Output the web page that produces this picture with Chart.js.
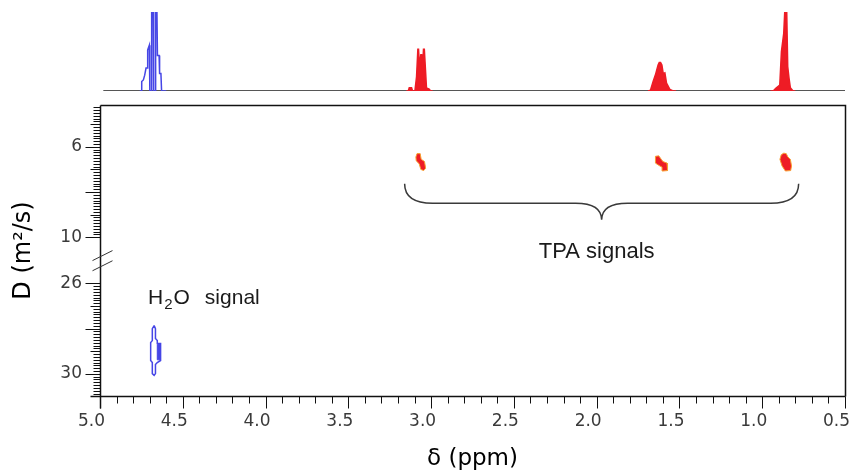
<!DOCTYPE html>
<html>
<head>
<meta charset="utf-8">
<script src="https://cdn.jsdelivr.net/npm/chart.js@4.4.0/dist/chart.umd.min.js"></script>
<style>
  html, body { margin: 0; padding: 0; background: #fff; }
  #wrap { position: relative; width: 853px; height: 472px; }
  #wrap canvas { position: absolute; left: 0; top: 0; }
</style>
</head>
<body>
<div id="wrap">
  <canvas id="spec-chart" width="853" height="472"></canvas>
  <canvas id="dosy-chart" width="853" height="472"></canvas>
</div>
<script>
var BLUE = '#4646e6';
var RED = '#ee1c25';
var EDGE = '#f7a030';

// 1H projection on top (intensity in % of full scale)
var h2o_ppm = [4.76, 4.748, 4.748, 4.738, 4.730, 4.722, 4.716, 4.712, 4.702, 4.700, 4.698, 4.691, 4.688, 4.679, 4.676, 4.667, 4.664, 4.656, 4.653, 4.643, 4.640, 4.632, 4.628, 4.60];
var h2o_int = [0, 0, 12, 14, 20, 29, 29, 52, 58, 58, 0, 0, 100, 100, 0, 0, 100, 100, 45, 45, 22, 22, 0, 0];

var tpa1_ppm = [3.15, 3.138, 3.132, 3.118, 3.112, 3.098, 3.088, 3.080, 3.076, 3.070, 3.062, 3.057, 3.052, 3.046, 3.041, 3.034, 3.028, 3.012, 3.003, 2.99];
var tpa1_int = [0, 0, 4, 4, 0, 0, 18, 53, 53, 31, 46, 46, 27, 53, 53, 27, 4, 2.5, 0, 0];

var tpa2_ppm = [1.69, 1.675, 1.659, 1.643, 1.629, 1.622, 1.614, 1.606, 1.598, 1.588, 1.578, 1.558, 1.538, 1.52];
var tpa2_int = [0, 1, 12, 22, 33, 36, 36, 33, 22, 23, 10, 2, 0, 0];

var tpa3_ppm = [0.95, 0.934, 0.918, 0.894, 0.884, 0.870, 0.864, 0.852, 0.846, 0.838, 0.830, 0.814, 0.80];
var tpa3_int = [0, 0, 3.4, 7.6, 50, 73, 100, 100, 31, 16, 4, 0, 0];

var base_ppm = [4.98, 0.5];
var base_int = [0, 0];

// DOSY contours (ppm, D)
var h2o_ring_ppm = [4.673, 4.665, 4.665, 4.654, 4.654, 4.634, 4.634, 4.654, 4.665, 4.665, 4.673, 4.684, 4.684, 4.694, 4.694, 4.684, 4.684, 4.673];
var h2o_ring_d   = [27.87, 28.0, 28.44, 28.53, 28.66, 28.66, 29.41, 29.5, 29.59, 29.99, 30.07, 29.99, 29.5, 29.41, 28.62, 28.53, 28.0, 27.87];
var h2o_core_ppm = [4.654, 4.636, 4.636, 4.654, 4.654];
var h2o_core_d   = [28.7, 28.7, 29.38, 29.38, 28.7];

var spot1_ppm = [3.085, 3.066, 3.060, 3.040, 3.033, 3.045, 3.062, 3.072, 3.090, 3.092, 3.085];
var spot1_d   = [6.30, 6.30, 6.55, 6.65, 6.95, 7.05, 7.00, 6.75, 6.62, 6.45, 6.30];
var spot2_ppm = [1.645, 1.625, 1.610, 1.600, 1.575, 1.572, 1.600, 1.605, 1.625, 1.645, 1.645];
var spot2_d   = [6.42, 6.40, 6.55, 6.65, 6.72, 7.05, 7.07, 6.90, 6.82, 6.72, 6.42];
var spot3_ppm = [0.885, 0.870, 0.855, 0.845, 0.830, 0.823, 0.828, 0.860, 0.880, 0.893, 0.885];
var spot3_d   = [6.35, 6.28, 6.30, 6.45, 6.55, 6.85, 7.05, 7.07, 6.85, 6.55, 6.35];

var x_labels = [0.5, 1.0, 1.5, 2.0, 2.5, 3.0, 3.5, 4.0, 4.5, 5.0];
var d_labels = [6, 10, 26, 30];

// the D axis is cut between ~10.8 and ~25.2
var GAP = 13.96;
function toAxis(d) { return d > 18 ? d - GAP : d; }
function fromAxis(t) { return t > 11.5 ? t + GAP : t; }

function pts(xs, ys, f)
{
  return xs.map(function (x, i) { return {x: x, y: f ? f(ys[i]) : ys[i]}; });
}

function snap(v) { return Math.round(v) + 0.5; }

var tickFont = {family: 'DejaVu Sans', size: 17};

var spec_chart = new Chart(document.getElementById('spec-chart'), {
  type: 'line',
  data: {
    datasets: [
      { data: pts(h2o_ppm, h2o_int), borderColor: BLUE, borderWidth: 1.5, fill: false },
      { data: pts(tpa1_ppm, tpa1_int), borderColor: RED, backgroundColor: RED, borderWidth: 1.5, fill: 'origin' },
      { data: pts(tpa2_ppm, tpa2_int), borderColor: RED, backgroundColor: RED, borderWidth: 1.5, fill: 'origin' },
      { data: pts(tpa3_ppm, tpa3_int), borderColor: RED, backgroundColor: RED, borderWidth: 1.5, fill: 'origin' },
      { data: pts(base_ppm, base_int), borderColor: '#1e1e1e', borderWidth: 1.5, fill: false }
    ]
  },
  options: {
    responsive: false,
    animation: false,
    devicePixelRatio: 1,
    layout: { padding: { left: 100, right: 8, top: 12, bottom: 381 } },
    elements: { point: { radius: 0 }, line: { tension: 0 } },
    plugins: { legend: { display: false }, tooltip: { enabled: false } },
    scales: {
      x: { type: 'linear', min: 0.5, max: 5, reverse: true, display: false },
      y: { min: 0, max: 100, display: false }
    }
  }
});

var decor = {
  id: 'decor',
  afterDraw: function (chart)
  {
    var ctx = chart.ctx, xs = chart.scales.x, ys = chart.scales.y, a = chart.chartArea;
    var i, k, px, py, len;
    var L = snap(a.left), R = snap(a.right), T = snap(a.top), B = snap(a.bottom);
    ctx.save();
    ctx.strokeStyle = '#111';
    ctx.lineWidth = 1.5;

    // frame, axes run a bit past the corner
    ctx.beginPath();
    ctx.moveTo(L, T); ctx.lineTo(L, B + 12);
    ctx.moveTo(L - 10, B); ctx.lineTo(R, B);
    ctx.moveTo(L, T); ctx.lineTo(R, T);
    ctx.lineTo(R, B);
    ctx.stroke();

    // x ticks every 0.1 ppm
    ctx.lineWidth = 1;
    ctx.beginPath();
    for (i = 5; i <= 50; i++) {
      px = snap(xs.getPixelForValue(i / 10));
      len = (i % 5 === 0) ? 12 : 7;
      ctx.moveTo(px, B); ctx.lineTo(px, B + len);
    }
    // y ticks every 1/8, both segments
    for (k = Math.ceil(ys.min * 8); k <= 80; k++) {
      py = snap(ys.getPixelForValue(k / 8));
      len = (k % 16 === 0) ? 15 : (k % 8 === 0 ? 10 : 7);
      ctx.moveTo(L - len, py); ctx.lineTo(L, py);
    }
    for (k = 26 * 8; k <= Math.floor((ys.max + GAP) * 8); k++) {
      py = snap(ys.getPixelForValue(toAxis(k / 8)));
      len = (k % 16 === 0) ? 15 : (k % 8 === 0 ? 10 : 7);
      ctx.moveTo(L - len, py); ctx.lineTo(L, py);
    }
    ctx.stroke();

    // axis break marks
    ctx.strokeStyle = '#333';
    ctx.lineWidth = 1;
    ctx.beginPath();
    [10.81, 11.26].forEach(function (t) {
      var y = ys.getPixelForValue(t);
      ctx.moveTo(L - 8, y + 5); ctx.lineTo(L + 12, y - 5);
    });
    ctx.stroke();

    // brace over the TPA signals
    var xl = xs.getPixelForValue(3.16), xr = xs.getPixelForValue(0.78), xt = xs.getPixelForValue(1.97);
    var yTop = ys.getPixelForValue(7.63), yMid = ys.getPixelForValue(8.49), yTip = ys.getPixelForValue(9.23);
    ctx.strokeStyle = '#3a3a3a';
    ctx.lineWidth = 1.5;
    ctx.beginPath();
    ctx.moveTo(xl, yTop);
    ctx.quadraticCurveTo(xl, yMid, xl + 28, yMid);
    ctx.lineTo(xt - 26, yMid);
    ctx.quadraticCurveTo(xt, yMid, xt, yTip);
    ctx.quadraticCurveTo(xt, yMid, xt + 26, yMid);
    ctx.lineTo(xr - 28, yMid);
    ctx.quadraticCurveTo(xr, yMid, xr, yTop);
    ctx.stroke();

    // notes
    ctx.fillStyle = '#1a1a1a';
    ctx.textBaseline = 'alphabetic';
    ctx.font = '22px "Liberation Sans", Arial, sans-serif';
    ctx.textAlign = 'center';
    ctx.fillText('TPA signals', xs.getPixelForValue(2.0), ys.getPixelForValue(10.9));

    ctx.textAlign = 'left';
    ctx.font = '21px "Liberation Sans", Arial, sans-serif';
    var hx = xs.getPixelForValue(4.71), hy = ys.getPixelForValue(toAxis(26.9));
    ctx.fillText('H', hx, hy);
    hx += ctx.measureText('H').width + 1;
    ctx.font = '15px "Liberation Sans", Arial, sans-serif';
    ctx.fillText('2', hx, hy + 5);
    hx += ctx.measureText('2').width + 1;
    ctx.font = '21px "Liberation Sans", Arial, sans-serif';
    ctx.fillText('O', hx, hy);
    hx += ctx.measureText('O').width + 15;
    ctx.fillText('signal', hx, hy);
    ctx.restore();
  }
};

var dosy_chart = new Chart(document.getElementById('dosy-chart'), {
  type: 'line',
  data: {
    datasets: [
      { data: pts(h2o_core_ppm, h2o_core_d, toAxis), borderColor: BLUE, backgroundColor: BLUE, borderWidth: 1, fill: 'shape' },
      { data: pts(h2o_ring_ppm, h2o_ring_d, toAxis), borderColor: BLUE, borderWidth: 1.5, fill: false },
      { data: pts(spot1_ppm, spot1_d, toAxis), borderColor: EDGE, backgroundColor: RED, borderWidth: 1, fill: 'shape' },
      { data: pts(spot2_ppm, spot2_d, toAxis), borderColor: EDGE, backgroundColor: RED, borderWidth: 1, fill: 'shape' },
      { data: pts(spot3_ppm, spot3_d, toAxis), borderColor: EDGE, backgroundColor: RED, borderWidth: 1, fill: 'shape' }
    ]
  },
  options: {
    responsive: false,
    animation: false,
    devicePixelRatio: 1,
    layout: { padding: { left: 0, right: 8, top: 105, bottom: 0 } },
    elements: { point: { radius: 0 }, line: { tension: 0 } },
    plugins: { legend: { display: false }, tooltip: { enabled: false } },
    scales: {
      x: {
        type: 'linear', min: 0.5, max: 5, reverse: true,
        grid: { display: false, drawTicks: false },
        border: { display: false },
        afterBuildTicks: function (s) { s.ticks = x_labels.map(function (v) { return {value: v}; }); },
        afterFit: function (s) { s.height = 76; s.paddingLeft = 0; s.paddingRight = 0; },
        ticks: {
          padding: 15, labelOffset: -8.5, autoSkip: false, maxRotation: 0,
          font: tickFont, color: '#3a3a3a',
          callback: function (v) { return Number(v).toFixed(1); }
        },
        title: { display: true, text: 'δ (ppm)', font: {family: 'DejaVu Sans', size: 23}, color: '#000', padding: {top: 0, bottom: -1} }
      },
      y: {
        type: 'linear', min: 4.15, max: 17.02, reverse: true,
        grid: { display: false, drawTicks: false },
        border: { display: false },
        afterBuildTicks: function (s) { s.ticks = d_labels.map(function (d) { return {value: toAxis(d)}; }); },
        afterFit: function (s) { s.width = 100; s.paddingTop = 0; s.paddingBottom = 0; },
        ticks: {
          padding: 18, autoSkip: false, font: tickFont, color: '#3a3a3a',
          callback: function (v) { return Math.round(fromAxis(v)); }
        },
        title: { display: true, text: 'D (m²/s)', font: {family: 'DejaVu Sans', size: 24}, color: '#000', padding: {top: 9, bottom: 0} }
      }
    }
  },
  plugins: [decor]
});
</script>
</body>
</html>
